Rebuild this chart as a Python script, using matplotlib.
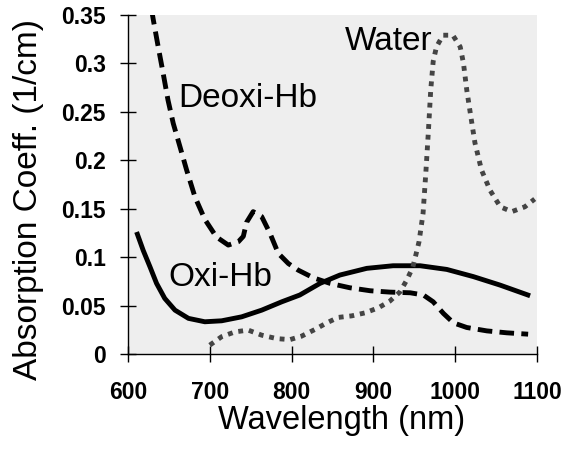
import matplotlib
matplotlib.use("Agg")
import matplotlib.pyplot as plt

plt.rcParams['font.family'] = ['Liberation Sans', 'DejaVu Sans']

oxi_wl = [610.6, 618.7, 627, 635, 645, 657.5, 674, 694, 714.5, 739, 763.5, 788, 810, 834.7, 859,
          891.8, 924, 957, 989.6, 1022, 1054.8, 1091.4]
oxi_val = [0.126, 0.107, 0.090, 0.073, 0.0575, 0.0454, 0.0369, 0.0334, 0.0344, 0.0385, 0.0454, 0.054,
           0.061, 0.073, 0.0816, 0.0885, 0.0912, 0.0912, 0.0874, 0.080, 0.0712, 0.0602]

deoxi_wl = [629, 631, 637, 643, 649, 655.4, 663.6, 671.7, 682, 694, 708, 722.6, 735, 741, 745, 753,
            763.4, 773.6, 783.7, 796, 808, 826.5, 847, 871, 896, 920, 945, 961, 973, 985.5, 997.7,
            1014, 1038.5, 1063, 1089]
deoxi_val = [0.355, 0.345, 0.317, 0.290, 0.262, 0.238, 0.214, 0.190, 0.162, 0.139, 0.121, 0.1125,
             0.116, 0.1215, 0.136, 0.147, 0.142, 0.1246, 0.104, 0.0935, 0.0867, 0.0788, 0.073,
             0.0685, 0.0654, 0.064, 0.0633, 0.061, 0.054, 0.042, 0.0323, 0.0275, 0.024, 0.022, 0.0206]

water_wl = [700, 714.5, 731, 747, 763.4, 782, 798, 812, 828.6, 843, 857, 873.5, 889.7, 906, 920,
            932.5, 940.7, 948, 952, 955.7, 960.6, 964, 967, 970, 973, 977, 985, 997, 1006, 1010,
            1014, 1019, 1024, 1032, 1042.5, 1055, 1069, 1085, 1097]
water_val = [0.0093, 0.018, 0.023, 0.0248, 0.0196, 0.016, 0.015, 0.0185, 0.0255, 0.0323, 0.0379,
             0.0395, 0.0426, 0.0478, 0.0547, 0.0643, 0.0764, 0.0895, 0.103, 0.116, 0.145, 0.187,
             0.228, 0.2726, 0.302, 0.317, 0.329, 0.329, 0.317, 0.300, 0.2726, 0.245, 0.218, 0.190,
             0.169, 0.152, 0.147, 0.152, 0.160]

x_ticks = [600, 700, 800, 900, 1000, 1100]
y_ticks = [0, 0.05, 0.1, 0.15, 0.2, 0.25, 0.3, 0.35]
y_tick_labels = ["0", "0.05", "0.1", "0.15", "0.2", "0.25", "0.3", "0.35"]

fig = plt.figure(figsize=(5.66, 4.5), dpi=100)
ax = fig.add_axes([0.226, 0.213, 0.723, 0.754])
ax.set_facecolor('#eeeeee')

ax.plot(oxi_wl, oxi_val, color='black', lw=3.5, solid_capstyle='butt', solid_joinstyle='round')
ax.plot(deoxi_wl, deoxi_val, color='black', lw=3.5, linestyle=(0, (3, 1.5)),
        dash_capstyle='butt', dash_joinstyle='round')
ax.plot(water_wl, water_val, color='#444444', lw=3.5, linestyle=(0, (1, 1.2)),
        dash_capstyle='butt', dash_joinstyle='round')

ax.set_xlim(600, 1100)
ax.set_ylim(0, 0.35)
ax.set_xticks(x_ticks)
ax.set_yticks(y_ticks)
ax.set_yticklabels(y_tick_labels)
for lab in ax.get_xticklabels() + ax.get_yticklabels():
    lab.set_fontweight('bold')
ax.tick_params(direction='inout', length=12, width=1, labelsize=16.5)
ax.tick_params(axis='x', pad=13)
ax.tick_params(axis='y', pad=10)

for s in ['top', 'right']:
    ax.spines[s].set_visible(False)
for s in ['left', 'bottom']:
    ax.spines[s].set_linewidth(1)

ax.set_xlabel('Wavelength (nm)', fontsize=23.5)
ax.set_ylabel('Absorption Coeff. (1/cm)', fontsize=24)
ax.xaxis.set_label_coords(0.523, -0.15)
ax.yaxis.set_label_coords(-0.205, 0.455)

ax.text(661, 0.264, 'Deoxi-Hb', fontsize=24, va='center', ha='left')
ax.text(649, 0.0795, 'Oxi-Hb', fontsize=24, va='center', ha='left')
ax.text(865, 0.322, 'Water', fontsize=24, va='center', ha='left')

fig.savefig('out.png', dpi=100)
